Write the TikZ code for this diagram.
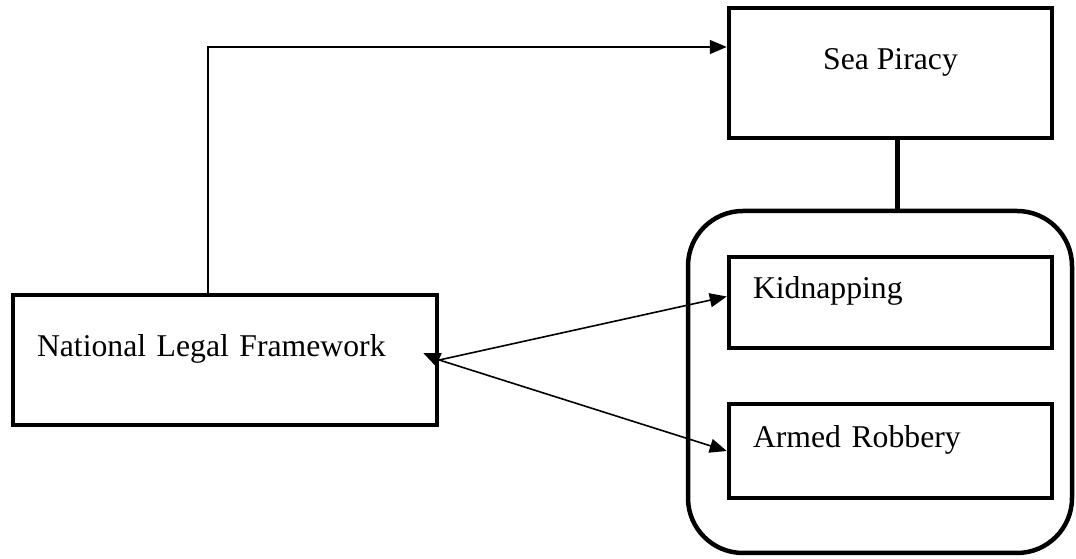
\documentclass[tikz,border=0pt]{standalone}
\usepackage{fontspec}
\setmainfont{Liberation Serif}
\usetikzlibrary{arrows.meta,positioning,calc}

\tikzset{
    box/.style={rectangle, draw, line width=4.5pt, minimum width=323pt,
        font=\fontsize{31.7}{38}\selectfont, text height=22pt, text depth=29pt},
    leftbox/.style={box, text width=275pt, align=left, inner xsep=24pt},
    link/.style={line width=1.6pt, -{Triangle[length=17pt,width=14pt]}}
}

\begin{document}
\begin{tikzpicture}[x=1pt, y=1pt]
    \useasboundingbox (0,0) rectangle (1076,559);

    % Group around the two offences
    \node[draw, line width=4.5pt, rounded corners=55pt, minimum width=384pt,
        minimum height=342pt] (group) at (880, 177) {};

    % Boxes
    \node[box, minimum height=130pt] (piracy) at (890.5, 486) {Sea Piracy};
    \node[leftbox, minimum height=91pt] (kidnap) at (890.5, 256.5) {Kidnapping};
    \node[leftbox, minimum height=94pt] (robbery) at (890.5, 108) {Armed Robbery};
    \node[leftbox, minimum width=424pt, text width=376pt, minimum height=130pt]
        (frame) at (225, 199) {National Legal Framework};

    % Sea Piracy to the group
    \draw[line width=4.5pt] ([xshift=7pt]piracy.south) -- ([xshift=7pt]piracy.south |- group.north);

    % Arrows from the framework
    \draw[link] ([xshift=-17pt]frame.north) |- ([yshift=26pt]piracy.west);
    \draw[link] (frame.east) -- ([yshift=6pt]kidnap.west);
    \draw[link] (frame.east) -- (robbery.west);
    \draw[link] (frame.east) -- ([xshift=-16pt,yshift=7pt]frame.east);
\end{tikzpicture}
\end{document}
